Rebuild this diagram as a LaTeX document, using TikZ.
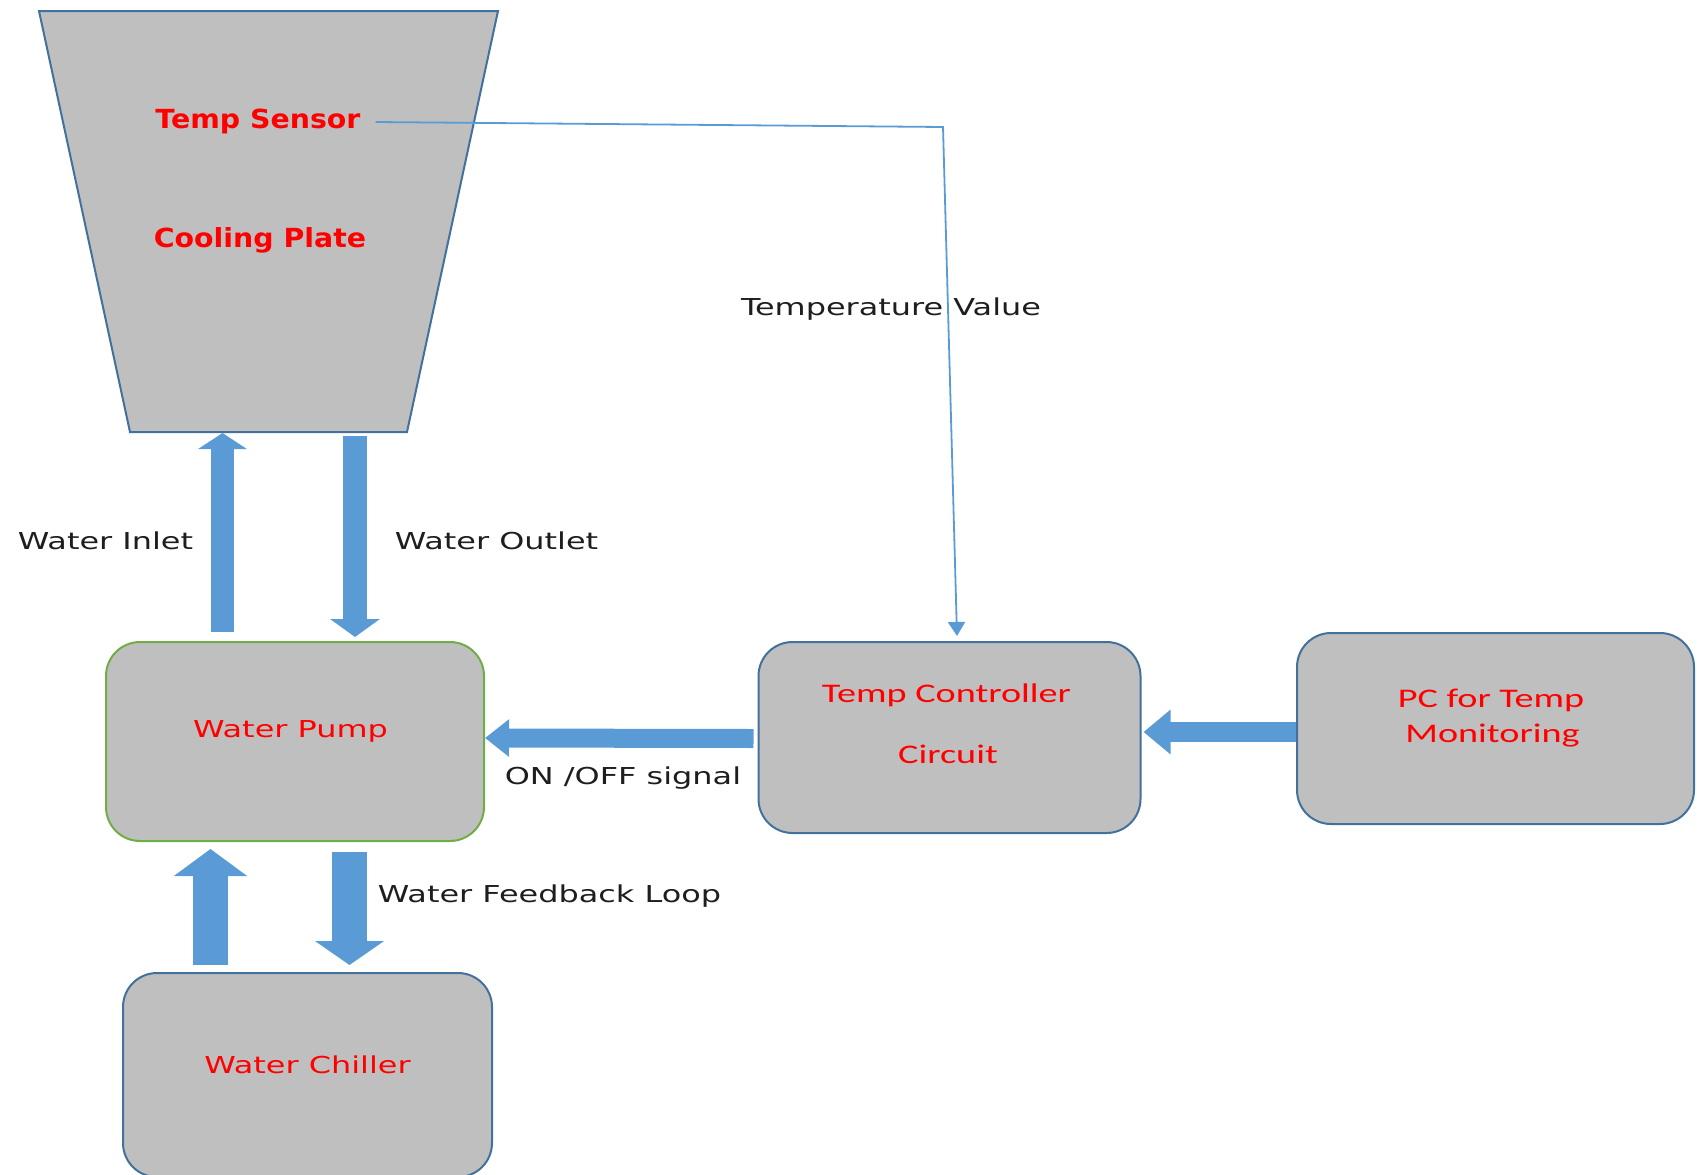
\documentclass[tikz,border=0pt]{standalone}
\usepackage{fontspec}
\usetikzlibrary{arrows.meta}
\newfontfamily\lblfont[FakeStretch=1.37]{DejaVu Sans}
\newfontfamily\platefont[FakeStretch=1.08]{DejaVu Sans}
\newfontfamily\calfont[FakeStretch=1.42]{Carlito}
\definecolor{boxgray}{HTML}{BFBFBF}
\definecolor{edgeblue}{HTML}{41719C}
\definecolor{pumpgreen}{HTML}{70AD47}
\definecolor{arrowblue}{HTML}{5B9BD5}
\definecolor{txtred}{HTML}{FF0000}
\definecolor{txtblack}{HTML}{1E1E1E}
\begin{document}
\begin{tikzpicture}[x=1pt,y=-1pt,
  boxshape/.style={draw=edgeblue, line width=2pt, fill=boxgray, rounded corners=34pt, inner sep=0pt},
  lbl/.style={inner sep=0pt, anchor=base, text=txtblack, font=\lblfont\fontsize{23.3}{28}\selectfont},
  redlbl/.style={inner sep=0pt, anchor=base, text=txtred, font=\lblfont\fontsize{23.3}{28}\selectfont},
  callbl/.style={inner sep=0pt, anchor=base, text=txtred, font=\calfont\fontsize{26.9}{32}\selectfont},
  platelbl/.style={inner sep=0pt, anchor=base, text=txtred, font=\platefont\bfseries\fontsize{26.3}{31}\selectfont},
  blk/.style={draw=arrowblue, line width=#1},
  sig/.style={draw=arrowblue, line width=1.8pt, -{Triangle[width=17pt,length=14pt]}}
]
\useasboundingbox (0,0) rectangle (1697,1175);

% cooling plate (trapezoid)
\draw[draw=edgeblue, line width=2pt, fill=boxgray, line join=miter]
  (39,11) -- (498,11) -- (407,432) -- (130,432) -- cycle;
\coordinate (platebot) at (268.5,432);
\node[platelbl] (sensor) at (258,128) {Temp Sensor};
\node[platelbl] (cooling) at (260,247) {Cooling Plate};

% boxes
\node[boxshape, draw=pumpgreen, minimum width=378pt, minimum height=199pt] (pump) at (295,741.5) {};
\node[boxshape, minimum width=382pt, minimum height=191pt] (ctrl) at (949.5,737.5) {};
\node[boxshape, minimum width=397pt, minimum height=191pt] (pc) at (1495.5,728.5) {};
\node[boxshape, minimum width=369pt, minimum height=204pt] (chiller) at (307.5,1075) {};

% box texts
\node[redlbl] (pumptxt) at (290.5,737) {Water Pump};
\node[redlbl] (chillertxt) at (307.5,1073) {Water Chiller};
\node[callbl] (ctrltxt1) at (946.5,702) {Temp Controller};
\node[callbl] (ctrltxt2) at (948,763) {Circuit};
\node[callbl] (pctxt1) at (1491,707) {PC for Temp};
\node[callbl] (pctxt2) at (1492.5,742) {Monitoring};

% labels
\node[lbl] (inletlbl) at (105.5,549) {Water Inlet};
\node[lbl] (outletlbl) at (496.5,549) {Water Outlet};
\node[lbl] (tvlbl) at (891,315) {Temperature Value};
\node[lbl] (onofflbl) at (623,784) {ON /OFF signal};
\node[lbl] (fblbl) at (549.5,902) {Water Feedback Loop};

% block arrows
\draw[blk=23pt, -{Triangle[width=48pt,length=16pt]}]
  ([xshift=-72.5pt,yshift=9pt]pump.north) -- ([xshift=-46pt,yshift=-1pt]platebot);
\draw[blk=24pt, -{Triangle[width=49pt,length=18pt]}]
  ([xshift=86.5pt,yshift=-4pt]platebot) -- ([xshift=60pt,yshift=4pt]pump.north);
\draw[blk=19pt, -{Triangle[width=36pt,length=24pt]}]
  ([xshift=-4pt,yshift=-1pt]ctrl.west) -- ([yshift=3.5pt]pump.east);
\draw[blk=20pt, -{Triangle[width=43pt,length=27pt]}]
  ([yshift=-3.5pt]pc.west) -- ([xshift=2pt,yshift=5.5pt]ctrl.east);
\draw[blk=35pt, -{Triangle[width=72pt,length=27pt]}]
  ([xshift=-97pt,yshift=7pt]chiller.north) -- ([xshift=-84.5pt,yshift=-7pt]pump.south);
\draw[blk=35pt, -{Triangle[width=68pt,length=24pt]}]
  ([xshift=54.5pt,yshift=-10pt]pump.south) -- ([xshift=42pt,yshift=7pt]chiller.north);

% temperature signal line
\coordinate (tcorner) at (943,127);
\draw[sig] ([xshift=15pt,yshift=6pt]sensor.base east) -- (tcorner) -- ([xshift=7.5pt,yshift=5pt]ctrl.north);
\end{tikzpicture}
\end{document}
